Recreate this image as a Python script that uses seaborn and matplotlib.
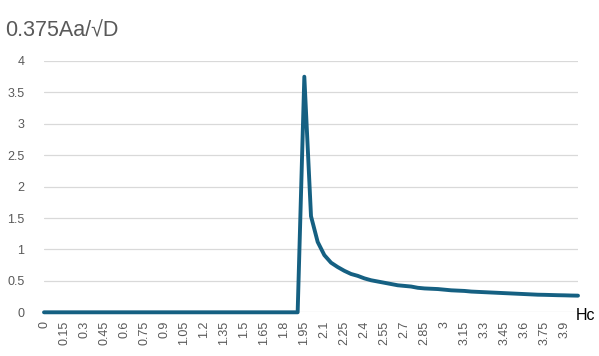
import matplotlib
matplotlib.use("Agg")
import matplotlib.pyplot as plt
import seaborn as sns
import pandas as pd

hc = [0.0, 0.05, 0.1, 0.15, 0.2, 0.25, 0.3, 0.35, 0.4, 0.45,
      0.5, 0.55, 0.6, 0.65, 0.7, 0.75, 0.8, 0.85, 0.9, 0.95,
      1.0, 1.05, 1.1, 1.15, 1.2, 1.25, 1.3, 1.35, 1.4, 1.45,
      1.5, 1.55, 1.6, 1.65, 1.7, 1.75, 1.8, 1.85, 1.9, 1.95,
      2.0, 2.05, 2.1, 2.15, 2.2, 2.25, 2.3, 2.35, 2.4, 2.45,
      2.5, 2.55, 2.6, 2.65, 2.7, 2.75, 2.8, 2.85, 2.9, 2.95,
      3.0, 3.05, 3.1, 3.15, 3.2, 3.25, 3.3, 3.35, 3.4, 3.45,
      3.5, 3.55, 3.6, 3.65, 3.7, 3.75, 3.8, 3.85, 3.9, 3.95, 4.0]

values = [0, 0, 0, 0, 0, 0, 0, 0, 0, 0,
          0, 0, 0, 0, 0, 0, 0, 0, 0, 0,
          0, 0, 0, 0, 0, 0, 0, 0, 0, 0,
          0, 0, 0, 0, 0, 0, 0, 0, 0, 3.75,
          1.53, 1.12, 0.91, 0.79, 0.72, 0.66, 0.61, 0.58, 0.54, 0.51,
          0.49, 0.47, 0.45, 0.43, 0.42, 0.41, 0.39, 0.38, 0.375, 0.37,
          0.36, 0.35, 0.345, 0.34, 0.33, 0.325, 0.32, 0.315, 0.31, 0.305,
          0.30, 0.295, 0.29, 0.285, 0.28, 0.278, 0.275, 0.272, 0.27, 0.267, 0.265]

tick_labels = ["0", "0.15", "0.3", "0.45", "0.6", "0.75", "0.9", "1.05", "1.2",
               "1.35", "1.5", "1.65", "1.8", "1.95", "2.1", "2.25", "2.4", "2.55",
               "2.7", "2.85", "3", "3.15", "3.3", "3.45", "3.6", "3.75", "3.9"]
y_ticks = [0, 0.5, 1, 1.5, 2, 2.5, 3, 3.5, 4]

title = "0.375Aa/\u221aD"
x_title = "Hc"

df = pd.DataFrame({"Hc": hc, "val": values})

sns.set_theme(style="white")
plt.rcParams["font.family"] = ["Liberation Sans", "DejaVu Sans"]

fig = plt.figure(figsize=(5.99, 3.56), dpi=100)
ax = fig.add_axes([44 / 599, 1 - 312.3 / 356, (578 - 44) / 599, (312.3 - 61) / 356])

sns.lineplot(data=df, x="Hc", y="val", ax=ax, color="#156082", linewidth=2.8,
             clip_on=False, zorder=3)

ax.set_xlim(0, 4.0)
ax.set_ylim(0, 4)
ax.set_yticks(y_ticks)
ax.set_yticklabels([f"{v:g}" for v in y_ticks], color="#595959", fontsize=9)
label_pos = hc[::3]
ax.set_xticks(label_pos)
ax.set_xticklabels(tick_labels, rotation=90, color="#595959", fontsize=9)
ax.tick_params(axis="both", length=0, pad=6)
ax.tick_params(axis="y", pad=14)
ax.grid(axis="y", color="#D9D9D9", linewidth=0.9)
ax.grid(axis="x", visible=False)
for s in ax.spines.values():
    s.set_visible(False)
ax.set_xlabel("")
ax.set_ylabel("")

fig.text(5 / 599, 1 - 31 / 356, title, fontsize=15.5, color="#595959", va="center", ha="left")
fig.text(576 / 599, 1 - 315 / 356, x_title, fontsize=11.5, color="black", va="center", ha="left")

fig.savefig("out.png", dpi=100)
